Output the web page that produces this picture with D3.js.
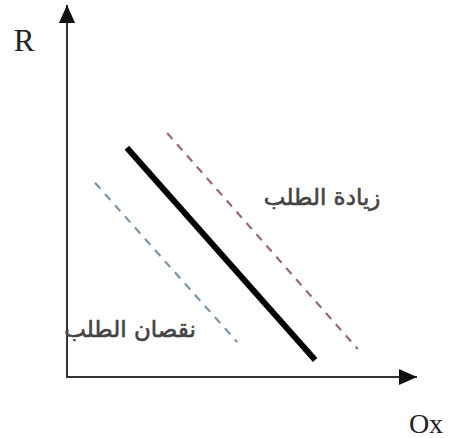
<!DOCTYPE html>
<html><head><meta charset="utf-8">
<script src="https://cdn.jsdelivr.net/npm/d3@7"></script>
<style>body{margin:0;background:#fff}</style>
</head><body>
<svg id="c" width="450" height="438"></svg>
<script>
// Data (axis units 0-100)
const curveNames = ["base", "increase", "decrease"];
const curveX = [[17.1, 70.9], [28.6, 83.1], [8.0, 48.6]];
const curveY = [[61.6, 4.6], [65.6, 7.5], [52.2, 9.4]];
const labels = ["زيادة الطلب", "نقصان الطلب"];
const labelX = [72.9, 18];
const labelY = [46.2, 10.8];
const axisLabels = ["R", "Ox"];

const svg = d3.select("#c");
const x = d3.scaleLinear().domain([0, 100]).range([67, 417]);
const y = d3.scaleLinear().domain([0, 100]).range([377, 5]);

const defs = svg.append("defs");
defs.append("marker").attr("id", "arr").attr("viewBox", "0 0 10 10")
  .attr("refX", 10).attr("refY", 5).attr("markerWidth", 18).attr("markerHeight", 18)
  .attr("markerUnits", "userSpaceOnUse").attr("orient", "auto")
  .append("path").attr("d", "M0,0.5 L10,5 L0,9.5 Z").attr("fill", "#111");

// axes
svg.append("line").attr("x1", x(0)).attr("y1", y(0)).attr("x2", x(0)).attr("y2", y(100))
  .attr("stroke", "#333").attr("stroke-width", 2).attr("marker-end", "url(#arr)");
svg.append("line").attr("x1", x(0) - 1).attr("y1", y(0)).attr("x2", x(100)).attr("y2", y(0))
  .attr("stroke", "#333").attr("stroke-width", 2).attr("marker-end", "url(#arr)");

const styles = {
  base: {stroke: "#000", width: 6, dash: null},
  increase: {stroke: "#9a6b68", width: 2.2, dash: "8,7"},
  decrease: {stroke: "#7896aa", width: 2.2, dash: "8,7"}
};
curveNames.forEach((n, i) => {
  const s = styles[n];
  const l = svg.append("line")
    .attr("x1", x(curveX[i][0])).attr("y1", y(curveY[i][0]))
    .attr("x2", x(curveX[i][1])).attr("y2", y(curveY[i][1]))
    .attr("stroke", s.stroke).attr("stroke-width", s.width);
  if (s.dash) l.attr("stroke-dasharray", s.dash);
});

labels.forEach((t, i) => {
  svg.append("text").attr("x", x(labelX[i])).attr("y", y(labelY[i]))
    .attr("text-anchor", "middle").attr("direction", "rtl")
    .attr("font-family", "DejaVu Sans, sans-serif").attr("font-size", 23)
    .attr("fill", "#444").attr("stroke", "#444").attr("stroke-width", 0.6).text(t);
});

svg.append("text").attr("x", 24).attr("y", 51).attr("text-anchor", "middle")
  .attr("font-family", "Liberation Serif, serif").attr("font-size", 31).attr("fill", "#222").text(axisLabels[0]);
svg.append("text").attr("x", 426).attr("y", 433).attr("text-anchor", "middle")
  .attr("font-family", "Liberation Serif, serif").attr("font-size", 28).attr("fill", "#222").text(axisLabels[1]);
</script>
</body></html>
